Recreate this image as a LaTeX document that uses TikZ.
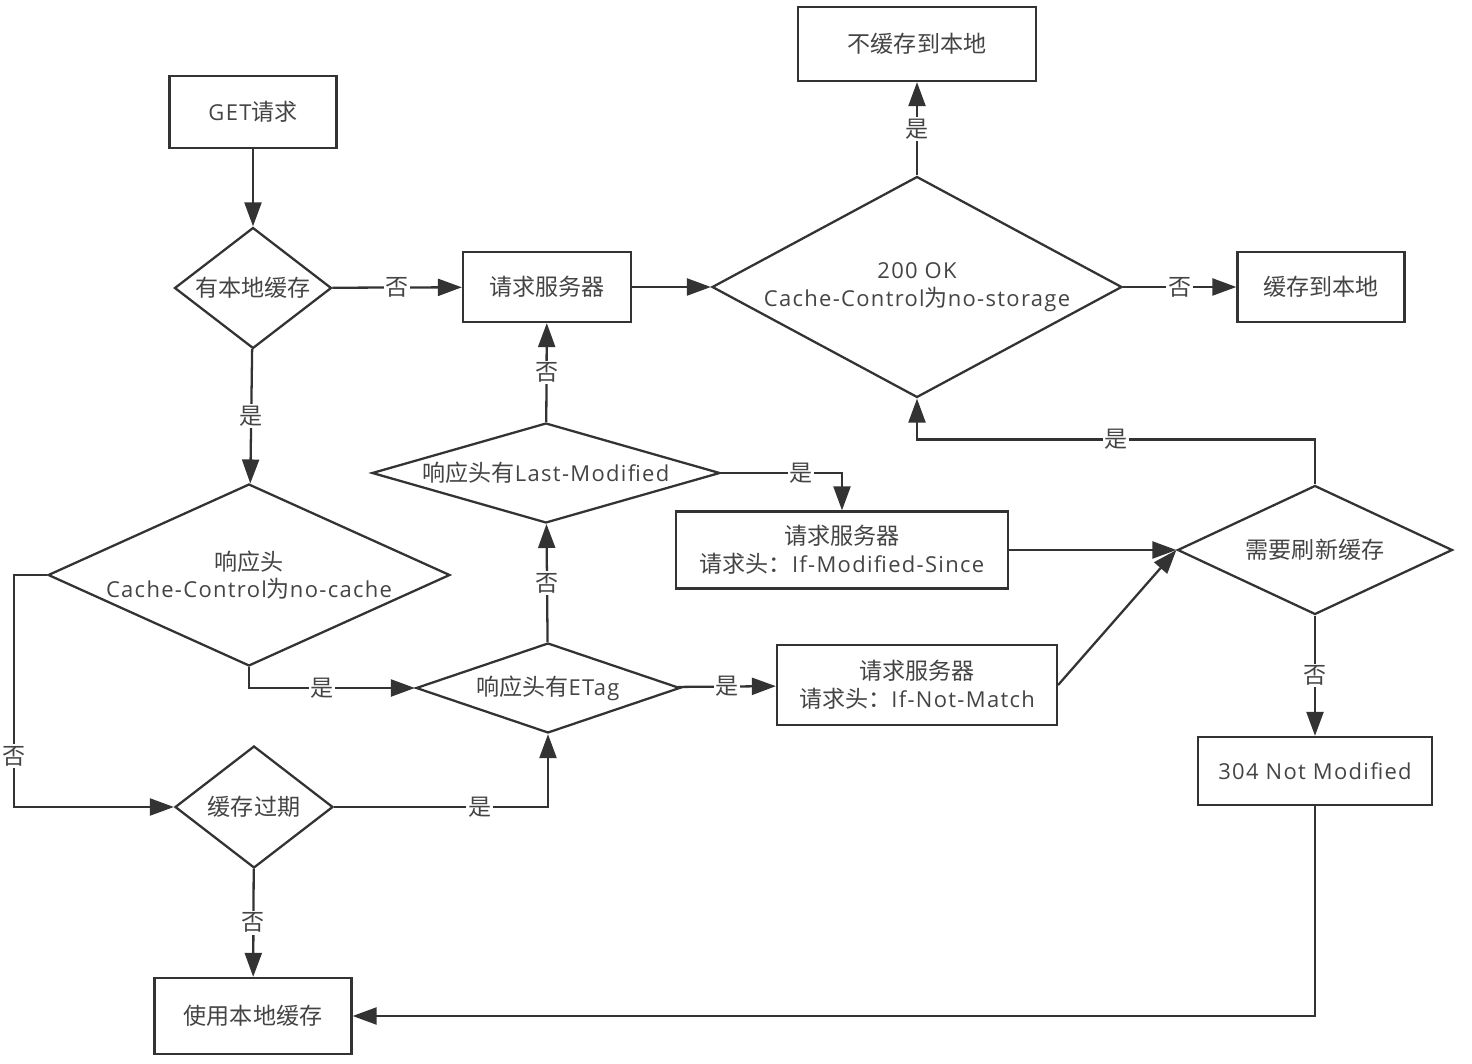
\documentclass[tikz,border=0pt]{standalone}
\usepackage{fontspec}
\setmainfont[LetterSpace=6]{Open Sans}
\newfontfamily\cjk[Scale=1.05]{Noto Sans CJK SC}
\usetikzlibrary{arrows.meta,shapes.geometric}
\definecolor{linegray}{RGB}{51,51,51}
\definecolor{textgray}{RGB}{68,68,68}

\begin{document}
\begin{tikzpicture}[x=0.02cm,y=-0.02cm,every node/.style={text=textgray,font=\fontsize{12.5}{15.7}\selectfont},box/.style={draw=linegray,line width=1.3pt,rectangle,align=center,inner sep=0pt},decision/.style={draw=linegray,line width=1.3pt,diamond,align=center,inner sep=0pt},arr/.style={draw=linegray,line width=1.3pt,-{Triangle[length=0.48cm,width=0.34cm]}},lbl/.style={fill=white,inner sep=1pt,font=\fontsize{12.5}{15.7}\selectfont\cjk}]
\useasboundingbox (0,0) rectangle (1472,1064);
\node[box,minimum width=3.34cm,minimum height=1.44cm](get) at (253,112){GET{\cjk 请求}};
\node[decision,aspect=1.3,minimum width=3.14cm,minimum height=2.42cm](haslocal) at (253,288){\cjk 有本地缓存};
\node[box,minimum width=3.36cm,minimum height=1.4cm](reqsrv) at (547,287){\cjk 请求服务器};
\node[decision,aspect=1.86,minimum width=8.2cm,minimum height=4.42cm](ok) at (917,287){200 OK\\Cache-Control{\cjk 为}no-storage};
\node[box,minimum width=4.76cm,minimum height=1.48cm](nostore) at (917,44){\cjk 不缓存到本地};
\node[box,minimum width=3.34cm,minimum height=1.4cm](store) at (1321,287){\cjk 缓存到本地};
\node[decision,aspect=2.21,minimum width=8.04cm,minimum height=3.64cm](nocache) at (249,575){{\cjk 响应头}\\Cache-Control{\cjk 为}no-cache};
\node[decision,aspect=3.48,minimum width=6.96cm,minimum height=2cm](lastmod) at (546,473){{\cjk 响应头有}Last-Modified};
\node[decision,aspect=2.93,minimum width=5.28cm,minimum height=1.8cm](etag) at (548,688){{\cjk 响应头有}ETag};
\node[box,minimum width=6.64cm,minimum height=1.54cm](ims) at (842,550){{\cjk 请求服务器}\\{\cjk 请求头：}If-Modified-Since};
\node[box,minimum width=5.6cm,minimum height=1.6cm](inm) at (917,685){{\cjk 请求服务器}\\{\cjk 请求头：}If-Not-Match};
\node[decision,aspect=2.13,minimum width=5.5cm,minimum height=2.58cm](refresh) at (1315,550){\cjk 需要刷新缓存};
\node[box,minimum width=4.68cm,minimum height=1.36cm](notmod) at (1315,771){304 Not Modified};
\node[decision,aspect=1.3,minimum width=3.16cm,minimum height=2.44cm](expired) at (254,807){\cjk 缓存过期};
\node[box,minimum width=3.94cm,minimum height=1.52cm](uselocal) at (253,1016){\cjk 使用本地缓存};
\draw[arr](get)--(haslocal);
\draw[arr](haslocal)--node[lbl]{否}(reqsrv);
\draw[arr](haslocal)--node[lbl]{是}(nocache);
\draw[arr](reqsrv)--(ok);
\draw[arr](ok)--node[lbl]{是}(nostore);
\draw[arr](ok)--node[lbl]{否}(store);
\draw[arr](nocache.west)--++(-33,0)|-node[lbl,pos=0.39]{否}(expired.west);
\draw[arr](nocache.south)|-node[lbl,pos=0.72]{是}(etag.west);
\draw[arr](etag)--node[lbl]{否}(lastmod);
\draw[arr](lastmod)--node[lbl]{否}(reqsrv);
\draw[arr](lastmod.east)-|node[lbl,pos=0.33]{是}(ims.north);
\draw[arr](etag)--node[lbl]{是}(inm);
\draw[arr](ims.east)--(refresh.west);
\draw[arr](inm.east)--(refresh.west);
\draw[arr](refresh.north)--++(0,-45)-|node[lbl,pos=0.25]{是}(ok.south);
\draw[arr](refresh)--node[lbl]{否}(notmod);
\draw[arr](expired.east)-|node[lbl,pos=0.34]{是}(etag.south);
\draw[arr](expired)--node[lbl]{否}(uselocal);
\draw[arr](notmod.south)|-(uselocal.east);
\end{tikzpicture}
\end{document}
